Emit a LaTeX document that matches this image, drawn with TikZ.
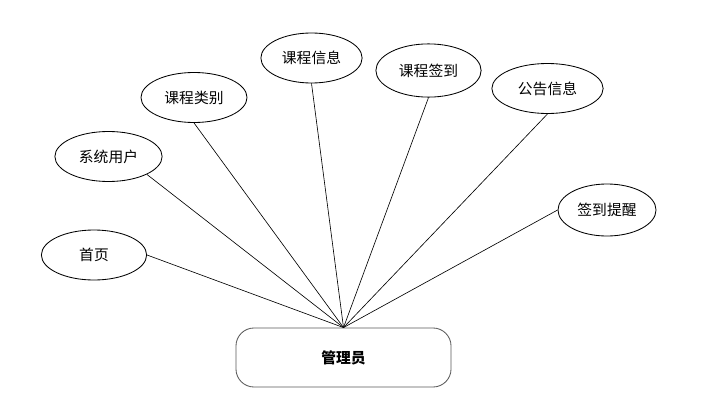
\documentclass[tikz,border=0pt]{standalone}
\usepackage{fontspec}
\setmainfont{Noto Sans CJK SC}
\usetikzlibrary{shapes.geometric}

\tikzset{
    funzione/.style = {ellipse, draw, line width=0.6pt, inner sep=0pt,
        minimum width=2.6cm, minimum height=1.25cm, font=\fontsize{10.5}{12}\selectfont},
    ruolo/.style = {rectangle, rounded corners=0.45cm, draw=black!65, line width=0.6pt,
        minimum width=5.375cm, minimum height=1.475cm, font=\fontsize{10.5}{12}\selectfont\bfseries},
    collegamento/.style = {line width=0.45pt}
}

\begin{document}
\begin{tikzpicture}[x = 0.025cm, y = -0.025cm]

    % Area
    \useasboundingbox (0,0) rectangle (720,407);

    % Attore
    \node[ruolo] (admin) at (343.5,357.5) {管理员};

    % Funzioni
    \node[funzione, minimum width=2.63cm] (home) at (94,255) {首页};
    \node[funzione, minimum width=2.68cm] (utenti) at (108.5,156.5) {系统用户};
    \node[funzione, minimum width=2.65cm] (categorie) at (194,97.5) {课程类别};
    \node[funzione, minimum width=2.53cm] (corsi) at (311.5,58) {课程信息};
    \node[funzione, minimum width=2.63cm, minimum height=1.33cm] (firme) at (428.5,70.5) {课程签到};
    \node[funzione, minimum width=2.78cm] (avvisi) at (547.5,88.5) {公告信息};
    \node[funzione, minimum width=2.45cm, minimum height=1.3cm] (promemoria) at (607,210) {签到提醒};

    % Collegamenti
    \foreach \f/\a in {home/east, utenti/-25, categorie/south, corsi/south,
                       firme/south, avvisi/south, promemoria/west}
        \draw[collegamento] (\f.\a) -- (admin.north);

\end{tikzpicture}
\end{document}
